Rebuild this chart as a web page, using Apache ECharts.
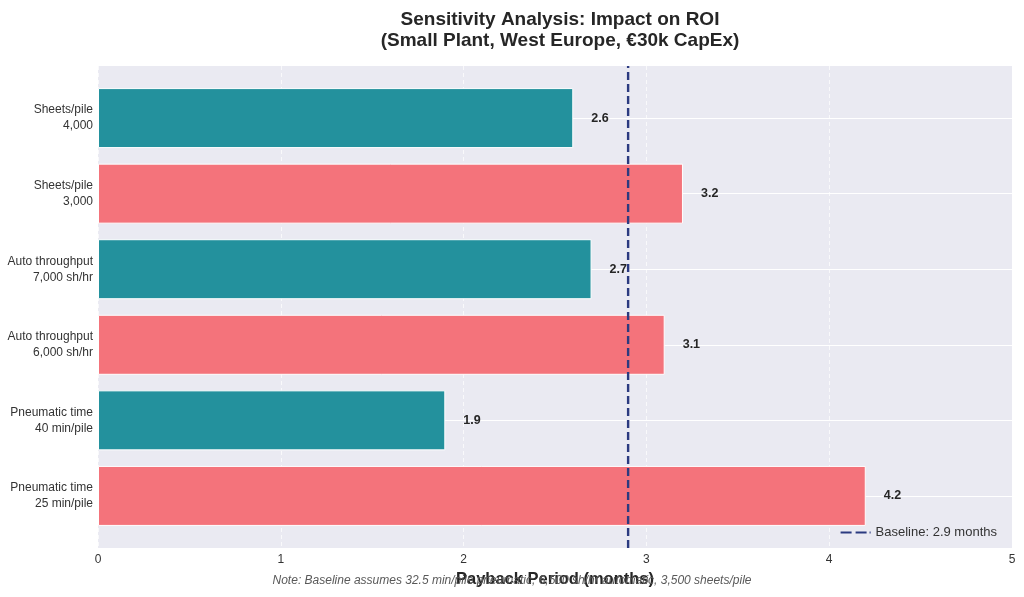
<!DOCTYPE html>
<html>
<head>
<meta charset="utf-8">
<script src="https://cdn.jsdelivr.net/npm/echarts@6/dist/echarts.min.js"></script>
<style>
  html, body { margin: 0; padding: 0; background: #fff; }
  #chart { width: 1024px; height: 597px; }
</style>
</head>
<body>
<div id="chart"></div>
<script>
// bottom-up order, as drawn
var categories = [
    'Pneumatic time\n25 min/pile',
    'Pneumatic time\n40 min/pile',
    'Auto throughput\n6,000 sh/hr',
    'Auto throughput\n7,000 sh/hr',
    'Sheets/pile\n3,000',
    'Sheets/pile\n4,000'
];
var payback = [4.2, 1.9, 3.1, 2.7, 3.2, 2.6];
var baseline = 2.9;

var TEAL = '#23919d';
var RED = '#f4737b';
var font = 'Liberation Sans, Arial, sans-serif';

var barData = payback.map(function(v) {
    return {
        value: v,
        itemStyle: { color: v > baseline ? RED : TEAL }
    };
});

var chart = echarts.init(document.getElementById('chart'), null, { renderer: 'canvas' });

chart.setOption({
    backgroundColor: '#ffffff',
    animation: false,
    textStyle: { fontFamily: font },
    title: {
        text: 'Sensitivity Analysis: Impact on ROI\n(Small Plant, West Europe, €30k CapEx)',
        left: 555,
        top: 4,
        textAlign: 'center',
        textStyle: { fontSize: 19, fontWeight: 'bold', color: '#262626', lineHeight: 21, fontFamily: font }
    },
    legend: {
        right: 22,
        top: 521,
        itemWidth: 30,
        itemHeight: 10,
        itemGap: 5,
        textStyle: { fontSize: 13, color: '#333', fontFamily: font },
        data: [{ name: 'Baseline: 2.9 months', icon: 'path://M0,4 L11,4 L11,6 L0,6 Z M15,4 L26,4 L26,6 L15,6 Z M29,4 L30,4 L30,6 L29,6 Z' }]
    },
    grid: [
        // full plot area (background + x ticks)
        { left: 98, right: 12, top: 66, bottom: 49, show: true, backgroundColor: '#eaeaf2', borderWidth: 0 },
        // category bands (bars)
        { left: 98, right: 12, top: 80.3, bottom: 63.3, show: false },
        // bar centres, for the horizontal gridlines
        { left: 98, right: 12, top: 118.1, bottom: 101.1, show: false }
    ],
    xAxis: [
        {
            gridIndex: 0, type: 'value', min: 0, max: 5, interval: 1,
            name: 'Payback Period (months)',
            nameLocation: 'middle',
            nameGap: 22,
            nameTextStyle: { fontSize: 16.5, fontWeight: 'bold', color: '#262626', fontFamily: font },
            axisLine: { show: false }, axisTick: { show: false },
            axisLabel: { fontSize: 12, color: '#333', margin: 6, fontFamily: font },
            splitLine: { show: true, lineStyle: { color: '#ffffff', width: 1, type: [4, 3], opacity: 0.7 } }
        },
        { gridIndex: 1, type: 'value', min: 0, max: 5, show: false },
        { gridIndex: 2, type: 'value', min: 0, max: 5, show: false }
    ],
    yAxis: [
        { gridIndex: 0, type: 'value', min: 0, max: 1, show: false },
        {
            gridIndex: 1, type: 'category', data: categories, boundaryGap: true,
            axisLine: { show: false }, axisTick: { show: false },
            splitLine: { show: false },
            axisLabel: {
                fontSize: 12, color: '#333', margin: 5, lineHeight: 16, align: 'right', fontFamily: font
            }
        },
        {
            gridIndex: 2, type: 'value', min: 0, max: 5, interval: 1,
            axisLine: { show: false }, axisTick: { show: false }, axisLabel: { show: false },
            splitLine: { show: true, lineStyle: { color: '#ffffff', width: 1.2 } }
        }
    ],
    series: [
        {
            type: 'bar',
            xAxisIndex: 1,
            yAxisIndex: 1,
            barWidth: 60,
            data: barData,
            itemStyle: { borderColor: '#ffffff', borderWidth: 1 },
            label: {
                show: true,
                position: 'right',
                distance: 18,
                fontSize: 12.5,
                fontWeight: 'bold',
                color: '#262626',
                fontFamily: font,
                formatter: function(p) { return p.value.toFixed(1); }
            },
            z: 3
        },
        {
            name: 'Baseline: 2.9 months',
            type: 'line',
            xAxisIndex: 0,
            yAxisIndex: 0,
            data: [[baseline, 0], [baseline, 1]],
            symbol: 'none',
            itemStyle: { color: '#2b3a80' },
            lineStyle: { color: '#2b3a80', width: 2.4, type: [8, 4] },
            z: 5
        }
    ],
    graphic: [
        {
            type: 'text',
            left: 'center',
            top: 575,
            style: {
                text: 'Note: Baseline assumes 32.5 min/pile pneumatic, 6,500 sh/hr automatic, 3,500 sheets/pile',
                font: 'italic 12px ' + font,
                fill: '#595959'
            },
            z: 10
        }
    ]
});
</script>
</body>
</html>
